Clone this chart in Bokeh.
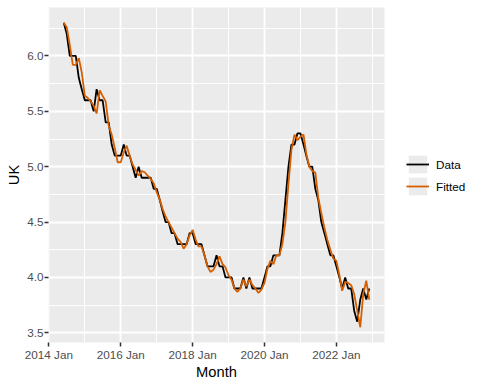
import pandas as pd
from bokeh.plotting import figure
from bokeh.layouts import row
from bokeh.models import (Range1d, FixedTicker, Legend, LegendItem,
                          ColumnDataSource, CustomJSTickFormatter)
from bokeh.embed import file_html
from bokeh.resources import INLINE

# ---- data (UK, monthly, Jun 2014 - Dec 2022) ----
first_month = "2014-06-01"
uk_data = [
    6.3, 6.2, 6.0, 6.0, 6.0, 5.8, 5.7, 5.6, 5.6, 5.6,
    5.5, 5.7, 5.6, 5.6, 5.4, 5.4, 5.2, 5.1, 5.1, 5.1,
    5.2, 5.1, 5.1, 5.0, 4.9, 5.0, 4.9, 4.9, 4.9, 4.9,
    4.8, 4.8, 4.7, 4.6, 4.5, 4.5, 4.4, 4.4, 4.3, 4.3,
    4.3, 4.3, 4.4, 4.4, 4.3, 4.3, 4.3, 4.2, 4.1, 4.1,
    4.1, 4.2, 4.1, 4.1, 4.0, 4.0, 4.0, 3.9, 3.9, 3.9,
    4.0, 3.9, 4.0, 3.9, 3.9, 3.9, 3.9, 4.0, 4.1, 4.1,
    4.2, 4.2, 4.2, 4.4, 4.7, 5.0, 5.2, 5.2, 5.3, 5.3,
    5.2, 5.1, 5.0, 5.0, 4.8, 4.7, 4.5, 4.4, 4.3, 4.2,
    4.2, 4.1, 4.0, 3.9, 4.0, 3.9, 3.9, 3.7, 3.6, 3.8,
    3.9, 3.8, 3.9,
]
uk_fitted = [
    6.30, 6.26, 6.10, 5.92, 5.92, 5.98, 5.85, 5.64, 5.62, 5.59,
    5.55, 5.48, 5.69, 5.64, 5.59, 5.37, 5.29, 5.17, 5.04, 5.04,
    5.13, 5.19, 5.10, 5.02, 4.97, 4.92, 4.96, 4.95, 4.92, 4.89,
    4.85, 4.77, 4.70, 4.62, 4.55, 4.50, 4.45, 4.40, 4.35, 4.32,
    4.26, 4.30, 4.38, 4.43, 4.34, 4.28, 4.28, 4.20, 4.10, 4.05,
    4.07, 4.12, 4.19, 4.12, 4.09, 4.02, 3.98, 3.90, 3.87, 3.90,
    3.98, 3.92, 3.98, 3.93, 3.90, 3.86, 3.89, 3.95, 4.08, 4.15,
    4.12, 4.20, 4.20, 4.30, 4.50, 4.85, 5.15, 5.29, 5.24, 5.27,
    5.29, 5.12, 5.00, 4.96, 4.95, 4.72, 4.58, 4.45, 4.34, 4.25,
    4.17, 4.15, 4.02, 3.88, 3.96, 3.95, 3.93, 3.85, 3.70, 3.55,
    3.85, 3.97, 3.80,
]
series_names = ["Data", "Fitted"]
series_cols = ["data", "fitted"]
series_colors = ["black", "#D55E00"]
x_tick_labels = ["2014 Jan", "2016 Jan", "2018 Jan", "2020 Jan", "2022 Jan"]
x_minor_labels = ["2015 Jan", "2017 Jan", "2019 Jan", "2021 Jan", "2023 Jan"]
y_ticks = [3.5, 4.0, 4.5, 5.0, 5.5, 6.0]
y_minor = [3.75, 4.25, 4.75, 5.25, 5.75, 6.25]


def to_ms(d):
    return float((pd.Timestamp(d) - pd.Timestamp("1970-01-01")) / pd.Timedelta("1ms"))


months = pd.date_range(first_month, periods=len(uk_data), freq="MS")
xms = [to_ms(m) for m in months]
src = ColumnDataSource(dict(x=xms, data=uk_data, fitted=uk_fitted))

# ggplot-like 5% expansion
x0, x1 = min(xms), max(xms)
xr = x1 - x0
allv = uk_data + uk_fitted
y0, y1 = min(allv), max(allv)
yr = y1 - y0

FONT = "Liberation Sans"
PANEL = "#EBEBEB"

p = figure(width=392, height=384, output_backend="svg", toolbar_location=None,
           x_range=Range1d(x0 - 0.05 * xr, x1 + 0.05 * xr),
           y_range=Range1d(y0 - 0.05 * yr, y1 + 0.05 * yr),
           min_border_left=48, min_border_right=8, min_border_top=7,
           min_border_bottom=42)
p.background_fill_color = PANEL
p.border_fill_color = "white"
p.outline_line_color = None

major_x = [to_ms(pd.to_datetime(s, format="%Y %b")) for s in x_tick_labels]
minor_x = [to_ms(pd.to_datetime(s, format="%Y %b")) for s in x_minor_labels]
p.xaxis.ticker = FixedTicker(ticks=major_x, minor_ticks=minor_x)
p.xaxis.major_label_overrides = {t: s for t, s in zip(major_x, x_tick_labels)}
p.yaxis.ticker = FixedTicker(ticks=y_ticks, minor_ticks=y_minor)
p.yaxis.formatter = CustomJSTickFormatter(code="return tick.toFixed(1);")

for ax in (p.xaxis[0], p.yaxis[0]):
    ax.axis_line_color = None
    ax.major_tick_line_color = "#333333"
    ax.major_tick_line_width = 1.5
    ax.major_tick_out = 4
    ax.major_tick_in = 0
    ax.minor_tick_line_color = None
    ax.major_label_text_font = FONT
    ax.major_label_text_font_size = "11.7px"
    ax.major_label_text_color = "#4D4D4D"
    ax.axis_label_text_font = FONT
    ax.axis_label_text_font_size = "14.7px"
    ax.axis_label_text_font_style = "normal"
    ax.axis_label_text_color = "black"

p.xaxis.axis_label = "Month"
p.yaxis.axis_label = "UK"
p.xaxis.major_label_standoff = 1
p.xaxis.axis_label_standoff = 0
p.yaxis.major_label_standoff = 1
p.yaxis.axis_label_standoff = 2

for g in (p.xgrid[0], p.ygrid[0]):
    g.grid_line_color = "white"
    g.grid_line_width = 1.8
    g.minor_grid_line_color = "white"
    g.minor_grid_line_width = 0.9

for col, color in zip(series_cols, series_colors):
    p.line("x", col, source=src, line_color=color, line_width=1.8)

# legend panel to the right of the plot area, as in ggplot
lg = figure(width=88, height=384, output_backend="svg", toolbar_location=None,
            x_range=Range1d(0, 1), y_range=Range1d(0, 1), min_border=0,
            x_axis_location=None, y_axis_location=None)
lg.grid.visible = False
lg.outline_line_color = None
lg.background_fill_color = "white"
lg.border_fill_color = "white"
# legend-key renderers share the series data; it lies outside this panel's ranges
key_bg = lg.rect("x", "data", source=src, width=1, height=1,
                 fill_color=PANEL, line_color=None)
items = []
for name, col, color in zip(series_names, series_cols, series_colors):
    r = lg.line("x", col, source=src, line_color=color, line_width=1.8)
    items.append(LegendItem(label=name, renderers=[key_bg, r]))
# the row aligns this panel's frame with the plot frame (top 7, bottom 342)
legend = Legend(items=items, location=(14, 145), glyph_width=23, glyph_height=22,
                label_height=22, spacing=0, padding=0, margin=0,
                label_standoff=7, label_text_font=FONT,
                label_text_font_size="11.7px", label_text_color="black",
                border_line_color=None, background_fill_alpha=0)
lg.add_layout(legend, "center")

layout = row(p, lg, spacing=0)
open("out.html", "w").write(file_html(layout, INLINE))
